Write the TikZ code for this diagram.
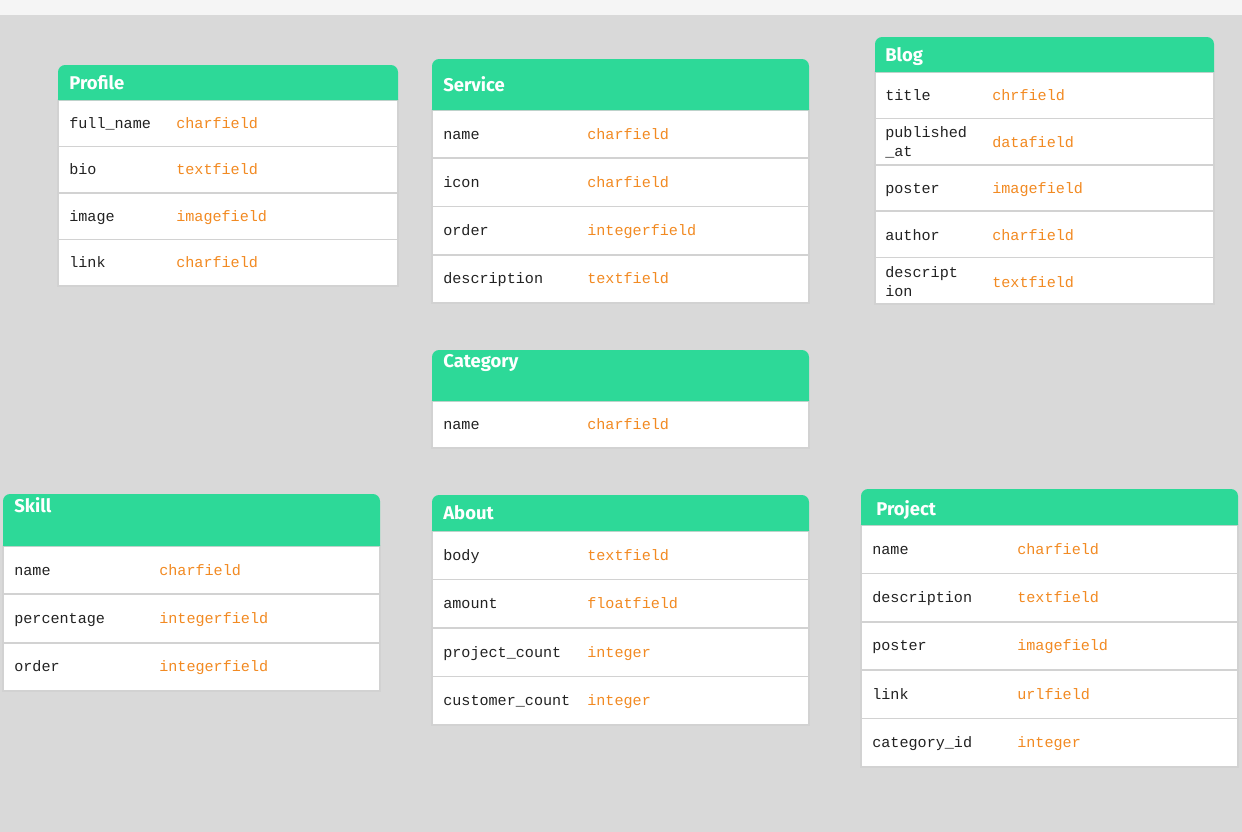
\documentclass[tikz,border=0pt]{standalone}
\usepackage{fontspec}
\setsansfont{Fira Sans}
\setmonofont{Liberation Mono}
\usepackage{xcolor}
\definecolor{mintgreen}{HTML}{2DD998}
\definecolor{typeorange}{HTML}{F28A22}
\definecolor{fieldblack}{HTML}{222222}
\definecolor{rowline}{HTML}{D2D2D2}
\definecolor{canvasgray}{HTML}{D9D9D9}
\definecolor{topbar}{HTML}{F5F5F5}

\begin{document}
\begin{tikzpicture}[x=0.02cm,y=-0.02cm,
    hdr/.style={fill=mintgreen},
    tbl/.style={draw=rowline, fill=white, line width=0.6pt},
    sep/.style={draw=rowline, line width=1pt},
    title/.style={anchor=base west, inner sep=0pt, text=white, font=\sffamily\bfseries\fontsize{10.5}{12}\selectfont},
    fld/.style={anchor=base west, inner sep=0pt, align=left, text=fieldblack, font=\ttfamily\fontsize{8.6}{10.8}\selectfont},
    typ/.style={fld, text=typeorange}]

        % Canvas
        \fill[topbar] (0,0) rectangle (1242,15);
        \fill[canvasgray] (0,15) rectangle (1242,832);

        % Profile
        \draw[tbl] (58,100) rectangle (398,286);
        \fill[hdr] (58,100) [rounded corners=4] -- (58,65) -- (398,65) [sharp corners] -- (398,100) -- cycle;
        \node[title] (profile) at (69,89) {Profile};
        \foreach \i in {1,2,3} \draw[sep] (58,{100+46.5*\i}) -- (398,{100+46.5*\i});
        \foreach \f/\t [count=\i from 0] in {full\_name/charfield, bio/textfield, image/imagefield, link/charfield}
            \node[fld] (profile-f\i) at (69,{128+46.5*\i}) {\f} node[typ] (profile-t\i) at (176,{128+46.5*\i}) {\t};

        % Service
        \draw[tbl] (432,110) rectangle (809,303);
        \fill[hdr] (432,110) [rounded corners=4] -- (432,59) -- (809,59) [sharp corners] -- (809,110) -- cycle;
        \node[title] (service) at (443,91) {Service};
        \foreach \i in {1,2,3} \draw[sep] (432,{110+48.25*\i}) -- (809,{110+48.25*\i});
        \foreach \f/\t [count=\i from 0] in {name/charfield, icon/charfield, order/integerfield, description/textfield}
            \node[fld] (service-f\i) at (443,{139+48.25*\i}) {\f} node[typ] (service-t\i) at (587,{139+48.25*\i}) {\t};

        % Blog
        \draw[tbl] (875,72) rectangle (1214,304);
        \fill[hdr] (875,72) [rounded corners=4] -- (875,37) -- (1214,37) [sharp corners] -- (1214,72) -- cycle;
        \node[title] (blog) at (885,61.5) {Blog};
        \foreach \i in {1,2,3,4} \draw[sep] (875,{72+46.4*\i}) -- (1214,{72+46.4*\i});
        \node[fld] (blog-f0) at (885,100.5) {title};
        \node[typ] (blog-t0) at (992,100.5) {chrfield};
        \node[fld, anchor=west] (blog-f1) at (885,142) {published\\\_at};
        \node[typ] (blog-t1) at (992,147) {datafield};
        \node[fld] (blog-f2) at (885,193.5) {poster};
        \node[typ] (blog-t2) at (992,193.5) {imagefield};
        \node[fld] (blog-f3) at (885,240) {author};
        \node[typ] (blog-t3) at (992,240) {charfield};
        \node[fld, anchor=west] (blog-f4) at (885,282) {descript\\ion};
        \node[typ] (blog-t4) at (992,287) {textfield};

        % Category
        \draw[tbl] (432,401) rectangle (809,448);
        \fill[hdr] (432,401) [rounded corners=4] -- (432,350) -- (809,350) [sharp corners] -- (809,401) -- cycle;
        \node[title] (category) at (443,367) {Category};
        \node[fld] (category-f0) at (443,429.5) {name};
        \node[typ] (category-t0) at (587,429.5) {charfield};

        % Skill
        \draw[tbl] (3,546) rectangle (380,691);
        \fill[hdr] (3,546) [rounded corners=4] -- (3,494) -- (380,494) [sharp corners] -- (380,546) -- cycle;
        \node[title] (skill) at (14,512) {Skill};
        \foreach \i in {1,2} \draw[sep] (3,{546+48.33*\i}) -- (380,{546+48.33*\i});
        \foreach \f/\t [count=\i from 0] in {name/charfield, percentage/integerfield, order/integerfield}
            \node[fld] (skill-f\i) at (14,{575+48.33*\i}) {\f} node[typ] (skill-t\i) at (159,{575+48.33*\i}) {\t};

        % About
        \draw[tbl] (432,531) rectangle (809,725);
        \fill[hdr] (432,531) [rounded corners=4] -- (432,495) -- (809,495) [sharp corners] -- (809,531) -- cycle;
        \node[title] (about) at (443,519) {About};
        \foreach \i in {1,2,3} \draw[sep] (432,{531+48.5*\i}) -- (809,{531+48.5*\i});
        \foreach \f/\t [count=\i from 0] in {body/textfield, amount/floatfield, project\_count/integer, customer\_count/integer}
            \node[fld] (about-f\i) at (443,{560+48.5*\i}) {\f} node[typ] (about-t\i) at (587,{560+48.5*\i}) {\t};

        % Project
        \draw[tbl] (861,525) rectangle (1238,767);
        \fill[hdr] (861,525) [rounded corners=4] -- (861,489) -- (1238,489) [sharp corners] -- (1238,525) -- cycle;
        \node[title] (project) at (876,515) {Project};
        \foreach \i in {1,2,3,4} \draw[sep] (861,{525+48.4*\i}) -- (1238,{525+48.4*\i});
        \foreach \f/\t [count=\i from 0] in {name/charfield, description/textfield, poster/imagefield, link/urlfield, category\_id/integer}
            \node[fld] (project-f\i) at (872,{554+48.4*\i}) {\f} node[typ] (project-t\i) at (1017,{554+48.4*\i}) {\t};

    \end{tikzpicture}
\end{document}
